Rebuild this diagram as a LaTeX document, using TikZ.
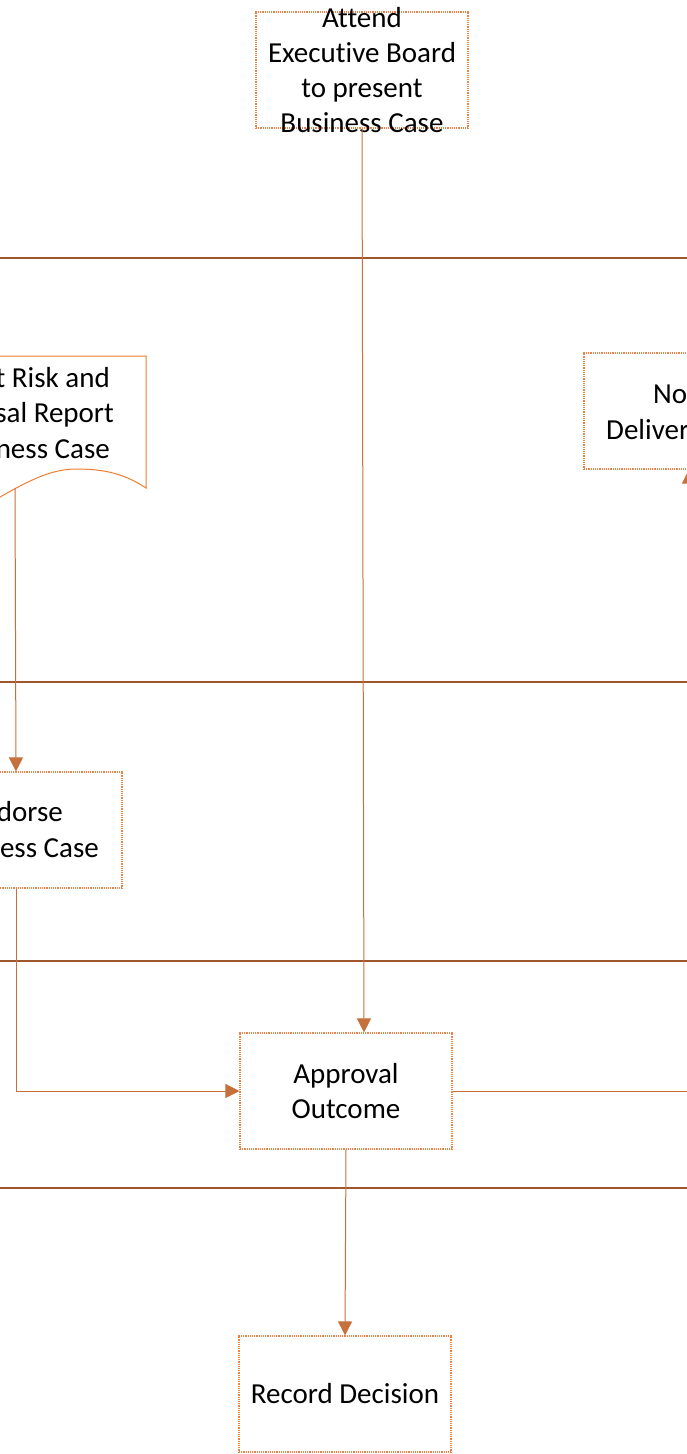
\documentclass[tikz,border=0pt]{standalone}
\usepackage{fontspec}
\setmainfont{Carlito}[Ligatures=NoCommon]
\usetikzlibrary{arrows.meta}
\definecolor{laneC}{RGB}{160,86,44}
\definecolor{connC}{RGB}{198,112,60}
\definecolor{dotC}{RGB}{237,130,70}
\definecolor{docC}{RGB}{237,125,49}
\begin{document}
\begin{tikzpicture}[x=1pt,y=-1pt,
  box/.style={draw=dotC,line width=1.1pt,dash pattern=on 1.2pt off 1pt,minimum width=212pt,minimum height=116pt,inner sep=0pt},
  txt/.style={font=\fontsize{29}{35}\selectfont,align=center,inner sep=0pt,text=black},
  frag/.style={font=\fontsize{29}{35}\selectfont,inner sep=0pt,text=black},
  conn/.style={draw=connC,line width=1pt,-{Triangle[width=14pt,length=14pt]}},
  lane/.style={draw=laneC,line width=2pt},
  docline/.style={draw=docC,line width=1pt}]
\useasboundingbox (0,0) rectangle (687,1454);
\clip (0,0) rectangle (687,1454);
% lane separators
\draw[lane] (0,258) -- (687,258);
\draw[lane] (0,682) -- (687,682);
\draw[lane] (0,961) -- (687,961);
\draw[lane] (0,1188) -- (687,1188);
% boxes
\node[box] (attend) at (362,70) {};
\node[txt] at (attend.center) {Attend\\Executive Board\\to present\\Business Case};
\node[box] (endorse) at (16,830) {};
\node[frag,anchor=base east] at (63,821) {dorse};
\node[frag,anchor=base east] at (99,857) {ess Case};
\node[box] (notdel) at (690,411) {};
\node[frag,anchor=base west] at (653,403) {No};
\node[frag,anchor=base west] at (606,439) {Deliver};
\node[box] (approval) at (346,1091) {};
\node[txt] at (approval.center) {Approval\\Outcome};
\node[box] (record) at (345,1394) {};
\node[txt] at (record.center) {Record Decision};
% document shape
\draw[docline,fill=white] (-5,356) -- (146,356) -- (146,488)
  .. controls (122,472) and (100,469) .. (76,469)
  .. controls (52,469) and (30,480) .. (0,497) -- (-5,500);
\node[frag,anchor=base east] at (110,387) {t Risk and};
\node[frag,anchor=base east] at (114,422) {sal Report};
\node[frag,anchor=base east] at (110,458) {ness Case};
\coordinate (docbot) at (15,488);
% connectors
\draw[conn] (docbot) -- (endorse.north);
\draw[conn] (attend.south) -- ([xshift=2pt]attend.south |- approval.north);
\draw[conn] (endorse.south) |- (approval.west);
\draw[conn] (approval.south) -- (record.north);
\coordinate (turn) at (689,1091);
\draw[conn] (approval.east) -- (turn) -- (turn |- notdel.south);
\end{tikzpicture}
\end{document}
